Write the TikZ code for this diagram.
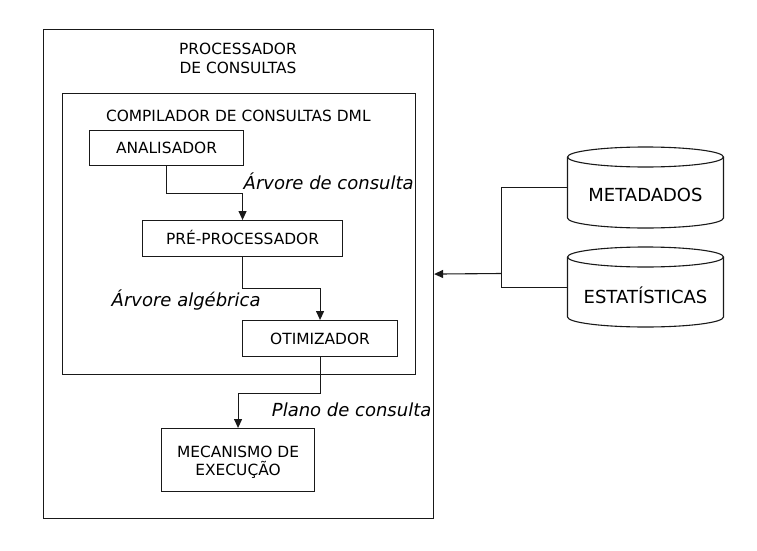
\documentclass[tikz,border=0pt]{standalone}
\usepackage{fontspec}
\setmainfont{DejaVu Sans}
\usetikzlibrary{arrows.meta}
\tikzset{
  ln/.style={line width=1.1pt, draw=black!90},
  box/.style={ln, draw, inner sep=0pt, anchor=north west, font=\fontsize{15.4}{18.4}\selectfont, text height=11.2pt, text depth=0pt},
  lbl/.style={inner sep=0pt, anchor=base west, font=\fontsize{18}{21}\selectfont\itshape},
  ttl/.style={inner sep=0pt, font=\fontsize{15.4}{18.4}\selectfont, align=center},
  arr/.style={ln, -{Triangle[length=9pt,width=8pt]}},
  cyltext/.style={inner sep=0pt, font=\fontsize{18}{21}\selectfont},
}
\begin{document}
\begin{tikzpicture}[x=1pt,y=-1pt]
\useasboundingbox (0,0) rectangle (757,551);
% containers
\node[ln, draw, inner sep=0pt, anchor=north west, minimum width=390pt, minimum height=489pt] (outer) at (43,29) {};
\node[ttl] (outertitle) at (238,58.6) {PROCESSADOR\\[0.1pt]DE CONSULTAS};
\node[ln, draw, inner sep=0pt, anchor=north west, minimum width=353pt, minimum height=281pt] (inner) at (62,93) {};
\node[ttl, anchor=base] (innertitle) at (238.3,121.7) {COMPILADOR DE CONSULTAS DML};
% boxes
\node[box, minimum width=154pt, minimum height=35pt] (ana) at (89,130) {ANALISADOR};
\node[box, minimum width=200pt, minimum height=36pt] (pre) at (142,220) {PRÉ-PROCESSADOR};
\node[box, minimum width=155pt, minimum height=36pt] (oti) at (242,320) {OTIMIZADOR};
\node[box, minimum width=153pt, minimum height=63pt, align=center, text height=31pt, text depth=0pt] (mec) at (161,428) {MECANISMO DE\\[0.1pt]EXECUÇÃO};
% labels
\node[lbl] (l1) at (243.5,189.3) {Árvore de consulta};
\node[lbl] (l2) at (111.5,306.7) {Árvore algébrica};
\node[lbl] (l3) at (271.7,416.7) {Plano de consulta};
% connectors
\draw[arr] (ana.south) -- ++(0,27.5) -| (pre.north);
\draw[arr] (pre.south) -- ++(0,31) -| (oti.north);
\draw[arr] (oti.south) -- ++(0,36) -| (mec.north);
% cylinders
\node[inner sep=0pt, minimum width=156pt, minimum height=81pt] (meta) at (645.5,187.5) {};
\node[inner sep=0pt, minimum width=156pt, minimum height=81pt] (stat) at (645.5,287.5) {};
\draw[ln] (645.5,157) ellipse [x radius=78pt, y radius=10pt];
\draw[ln] (567.5,157) -- (567.5,218) arc[start angle=180, end angle=360, x radius=78pt, y radius=10pt] -- (723.5,157);
\draw[ln] (645.5,257) ellipse [x radius=78pt, y radius=10pt];
\draw[ln] (567.5,257) -- (567.5,317) arc[start angle=180, end angle=360, x radius=78pt, y radius=10pt] -- (723.5,257);
\node[cyltext] (metatext) at (645.5,195) {METADADOS};
\node[cyltext] (stattext) at (645.5,295) {ESTATÍSTICAS};
\coordinate (j) at (501.5,273.5);
\draw[ln] (meta.west) -- (meta.west -| j) -- (stat.west -| j) -- (stat.west);
\draw[arr] (j) -- (outer.east);
\end{tikzpicture}
\end{document}
